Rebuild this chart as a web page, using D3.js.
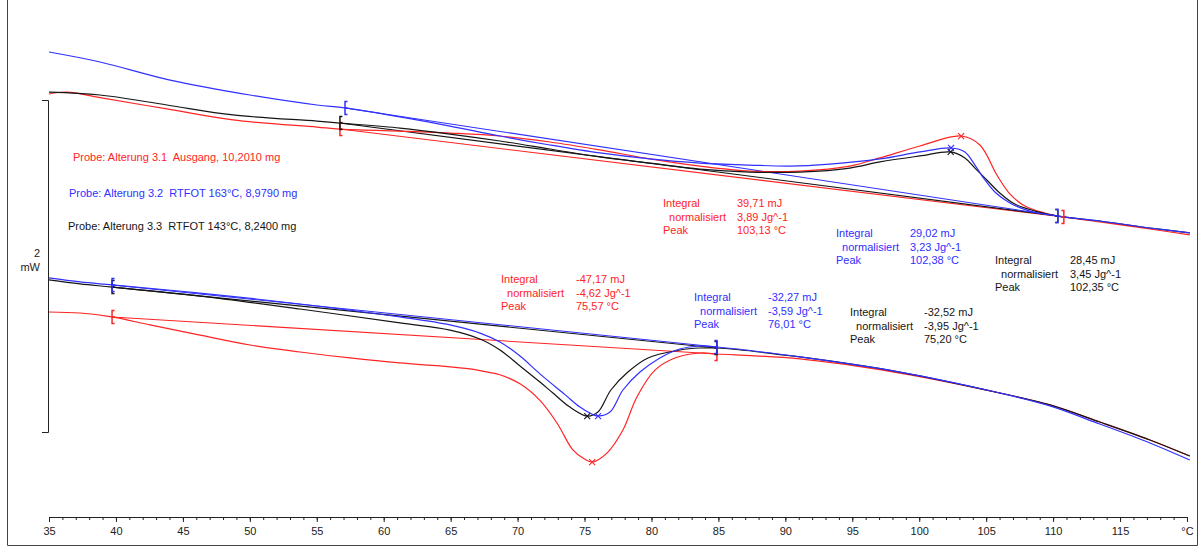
<!DOCTYPE html>
<html>
<head>
<meta charset="utf-8">
<script src="https://cdn.jsdelivr.net/npm/d3@7"></script>
<style>
  body { margin: 0; background: #fff; }
  text { font-family: "Liberation Sans", Arial, sans-serif; font-size: 11px; }
</style>
</head>
<body>
<div id="chart"></div>
<script>
// DSC curves: temperature in °C, heat flow in mW (arbitrary offset)
let width = 1203
let height = 549

let redUpper = [[35.00,2.036],[36.34,2.048],[38.81,2.014],[43.81,1.946],[48.74,1.880],[55.01,1.837],[56.73,1.825],
  [61.21,1.813],[64.95,1.801],[68.68,1.783],[72.42,1.747],[76.15,1.699],[79.88,1.645],[83.62,1.602],[87.35,1.572],
  [91.09,1.572],[94.82,1.602],[97.06,1.651],[100.05,1.723],[103.13,1.783],[104.53,1.729],[105.80,1.548],[106.77,1.434],
  [107.89,1.361],[109.38,1.319],[110.80,1.295],[113.49,1.265],[117.23,1.223],[120.21,1.187]]

let blueUpper = [[35.00,2.289],[38.81,2.229],[44.04,2.120],[50.01,2.030],[55.01,1.970],[57.11,1.952],[61.21,1.898],
  [64.95,1.843],[68.68,1.783],[72.42,1.729],[76.15,1.681],[79.88,1.645],[83.62,1.620],[87.35,1.608],[90.34,1.602],
  [93.33,1.614],[97.06,1.645],[100.05,1.687],[102.38,1.711],[103.41,1.687],[104.16,1.608],[104.75,1.536],[105.65,1.446],
  [106.77,1.380],[108.26,1.331],[110.35,1.301],[113.49,1.271],[117.23,1.229],[120.21,1.199]]

let blackUpper = [[35.00,2.048],[38.81,2.030],[43.81,1.970],[48.74,1.910],[55.01,1.873],[56.73,1.861],[61.21,1.831],
  [64.95,1.795],[68.68,1.753],[72.42,1.705],[76.15,1.657],[79.88,1.620],[83.62,1.584],[87.35,1.566],[91.09,1.566],
  [94.82,1.590],[97.06,1.627],[100.05,1.663],[102.35,1.687],[103.41,1.651],[104.16,1.590],[105.05,1.518],[106.02,1.440],
  [107.14,1.373],[108.64,1.331],[110.35,1.301],[113.49,1.271],[117.23,1.229],[120.21,1.199]]

let redLower = [[35.00,0.723],[37.32,0.717],[39.71,0.693],[42.54,0.645],[46.28,0.584],[50.01,0.524],[53.75,0.482],
  [57.48,0.446],[61.21,0.416],[64.20,0.398],[66.44,0.380],[67.94,0.358],[68.68,0.345],[70.18,0.290],[71.67,0.190],
  [72.94,0.054],[74.13,-0.108],[74.88,-0.157],[75.57,-0.181],[76.67,-0.127],[77.87,0.012],[78.91,0.211],[80.26,0.373],
  [81.75,0.446],[83.62,0.476],[84.89,0.470],[91.09,0.440],[98.55,0.355],[106.02,0.235],[109.76,0.163],[113.49,0.060],
  [117.23,-0.048],[120.21,-0.145]]

let blueLower = [[35.00,0.928],[37.32,0.904],[39.71,0.886],[46.28,0.837],[53.75,0.771],[61.21,0.693],[64.95,0.645],
  [67.19,0.596],[68.68,0.542],[70.18,0.458],[71.67,0.350],[73.54,0.225],[74.66,0.150],[75.40,0.114],[76.01,0.096],
  [76.90,0.120],[77.87,0.253],[79.14,0.361],[80.63,0.446],[82.13,0.500],[83.62,0.518],[84.89,0.512],[91.09,0.452],
  [98.55,0.361],[106.02,0.235],[109.76,0.157],[113.49,0.048],[117.23,-0.066],[120.21,-0.169]]

let blackLower = [[35.00,0.916],[37.32,0.892],[39.71,0.873],[46.28,0.819],[53.75,0.741],[61.21,0.657],[64.95,0.614],
  [67.19,0.560],[68.68,0.494],[70.18,0.398],[71.67,0.301],[72.64,0.235],[73.91,0.150],[75.20,0.096],[76.00,0.120],
  [76.97,0.253],[78.24,0.361],[79.74,0.446],[82.13,0.494],[83.62,0.506],[84.89,0.506],[91.09,0.452],[98.55,0.361],
  [106.02,0.235],[109.76,0.163],[113.49,0.060],[117.23,-0.048],[120.21,-0.145]]

// integration limits (start, end) for each peak
let redUpperLimits = [[56.73,1.825],[110.80,1.295]]
let blueUpperLimits = [[57.11,1.952],[110.35,1.301]]
let blackUpperLimits = [[56.73,1.861],[110.35,1.301]]
let redLowerLimits = [[39.71,0.693],[84.89,0.470]]
let blueLowerLimits = [[39.71,0.886],[84.89,0.512]]
let blackLowerLimits = [[39.71,0.873],[84.89,0.506]]

// peak points
let redUpperPeak = [103.13,1.783]
let blueUpperPeak = [102.38,1.711]
let blackUpperPeak = [102.35,1.687]
let redLowerPeak = [75.57,-0.181]
let blueLowerPeak = [76.01,0.096]
let blackLowerPeak = [75.20,0.096]

let sampleNames = ["Probe: Alterung 3.1  Ausgang, 10,2010 mg",
                   "Probe: Alterung 3.2  RTFOT 163°C, 8,9790 mg",
                   "Probe: Alterung 3.3  RTFOT 143°C, 8,2400 mg"]

let resultLabels = ["Integral", "  normalisiert", "Peak"]
let redUpperResult = ["39,71 mJ", "3,89 Jg^-1", "103,13 °C"]
let blueUpperResult = ["29,02 mJ", "3,23 Jg^-1", "102,38 °C"]
let blackUpperResult = ["28,45 mJ", "3,45 Jg^-1", "102,35 °C"]
let redLowerResult = ["-47,17 mJ", "-4,62 Jg^-1", "75,57 °C"]
let blueLowerResult = ["-32,27 mJ", "-3,59 Jg^-1", "76,01 °C"]
let blackLowerResult = ["-32,52 mJ", "-3,95 Jg^-1", "75,20 °C"]

let xTicks = d3.range(35, 121, 5)
let xMinorTicks = d3.range(35, 121, 1)

let red = "#ff2424"
let blue = "#3030ff"
let black = "#151515"

let svg = d3.select("#chart")
  .append("svg")
  .attr("width", width)
  .attr("height", height)

let x = d3.scaleLinear()
          .domain([35, 120])
          .range([49, 1187])

let y = d3.scaleLinear()
          .domain([0, 2])
          .range([432, 100])

// frame
svg.append("path")
   .attr("d", "M7.5,0V545.5H1197.5V0")
   .attr("fill", "none")
   .attr("stroke", "#444")

// x-axis with minor ticks
let minorAxis = d3.axisBottom(x).tickValues(xMinorTicks).tickSize(3).tickSizeOuter(0).tickFormat("")
svg.append("g")
   .attr("transform", "translate(0,517)")
   .call(minorAxis)

let xAxis = d3.axisBottom(x)
              .tickValues(xTicks)
              .tickSize(5)
              .tickSizeOuter(0)
              .tickFormat(d => d == 120 ? "°C" : d)

let gx = svg.append("g")
   .attr("transform", "translate(0,517)")
   .call(xAxis)
gx.selectAll("text").attr("font-size", 11).attr("font-family", "Liberation Sans, Arial, sans-serif").attr("dy", "0.9em").attr("fill", "#222")
svg.selectAll(".domain, .tick line").attr("stroke", "#222")

// 2 mW scale bar
svg.append("path")
   .attr("d", `M42,${y(2) + 0.5}H48.5V${y(0) + 0.5}H42`)
   .attr("fill", "none")
   .attr("stroke", "#222")
svg.append("text").attr("x", 40).attr("y", 257).attr("text-anchor", "end").attr("fill", "#222").text("2")
svg.append("text").attr("x", 40).attr("y", 271).attr("text-anchor", "end").attr("fill", "#222").text("mW")

let line = d3.line()
             .x(d => x(d[0]))
             .y(d => y(d[1]))
             .curve(d3.curveCatmullRom.alpha(0.5))

let curves = [
  {data: redLower, limits: redLowerLimits, peak: redLowerPeak, color: red},
  {data: blackLower, limits: blackLowerLimits, peak: blackLowerPeak, color: black},
  {data: blueLower, limits: blueLowerLimits, peak: blueLowerPeak, color: blue},
  {data: redUpper, limits: redUpperLimits, peak: redUpperPeak, color: red},
  {data: blackUpper, limits: blackUpperLimits, peak: blackUpperPeak, color: black},
  {data: blueUpper, limits: blueUpperLimits, peak: blueUpperPeak, color: blue}
]

// baselines
svg.selectAll(".baseline")
   .data(curves)
   .enter()
   .append("path")
   .attr("class", "baseline")
   .attr("d", d => d3.line().x(p => x(p[0])).y(p => y(p[1]))(d.limits))
   .attr("fill", "none")
   .attr("stroke", d => d.color)
   .attr("stroke-width", 1.1)

// measured curves
svg.selectAll(".curve")
   .data(curves)
   .enter()
   .append("path")
   .attr("class", "curve")
   .attr("d", d => line(d.data))
   .attr("fill", "none")
   .attr("stroke", d => d.color)
   .attr("stroke-width", 1.2)

// limit markers
curves.forEach(c => {
  c.limits.forEach((p, i) => {
    let px = x(p[0]), py = y(p[1])
    let s = i == 0 ? 2.5 : -2.5
    svg.append("path")
       .attr("d", `M${px + s},${py - 6.5}H${px}V${py + 6.5}H${px + s}M${px},${py}h${s}`)
       .attr("fill", "none")
       .attr("stroke", c.color)
       .attr("stroke-width", 1.5)
  })
  let qx = x(c.peak[0]), qy = y(c.peak[1])
  svg.append("path")
     .attr("d", `M${qx - 3},${qy - 3}L${qx + 3},${qy + 3}M${qx - 3},${qy + 3}L${qx + 3},${qy - 3}`)
     .attr("stroke", c.color)
     .attr("stroke-width", 1.1)
})

// sample legend
let legendPos = [[73, 157], [69, 193], [68, 226]]
let legendColors = [red, blue, black]
svg.selectAll(".legend")
   .data(sampleNames)
   .enter()
   .append("text")
   .attr("x", (d, i) => legendPos[i][0])
   .attr("y", (d, i) => legendPos[i][1])
   .attr("dy", "0.35em")
   .attr("fill", (d, i) => legendColors[i])
   .style("white-space", "pre")
   .text(d => d)

// result tables
let results = [
  {values: redUpperResult, color: red, pos: [663, 737, 203]},
  {values: blueUpperResult, color: blue, pos: [836, 910, 233]},
  {values: blackUpperResult, color: black, pos: [995, 1070, 260]},
  {values: redLowerResult, color: red, pos: [501, 576, 279]},
  {values: blueLowerResult, color: blue, pos: [694, 768, 297]},
  {values: blackLowerResult, color: black, pos: [850, 924, 312]}
]

results.forEach(r => {
  let g = svg.append("g").attr("fill", r.color)
  resultLabels.forEach((lab, i) => {
    g.append("text")
     .attr("x", r.pos[0])
     .attr("y", r.pos[2] + i * 13.8)
     .attr("dy", "0.35em")
     .style("white-space", "pre")
     .text(lab)
    g.append("text")
     .attr("x", r.pos[1])
     .attr("y", r.pos[2] + i * 13.8)
     .attr("dy", "0.35em")
     .text(r.values[i])
  })
})
</script>
</body>
</html>
